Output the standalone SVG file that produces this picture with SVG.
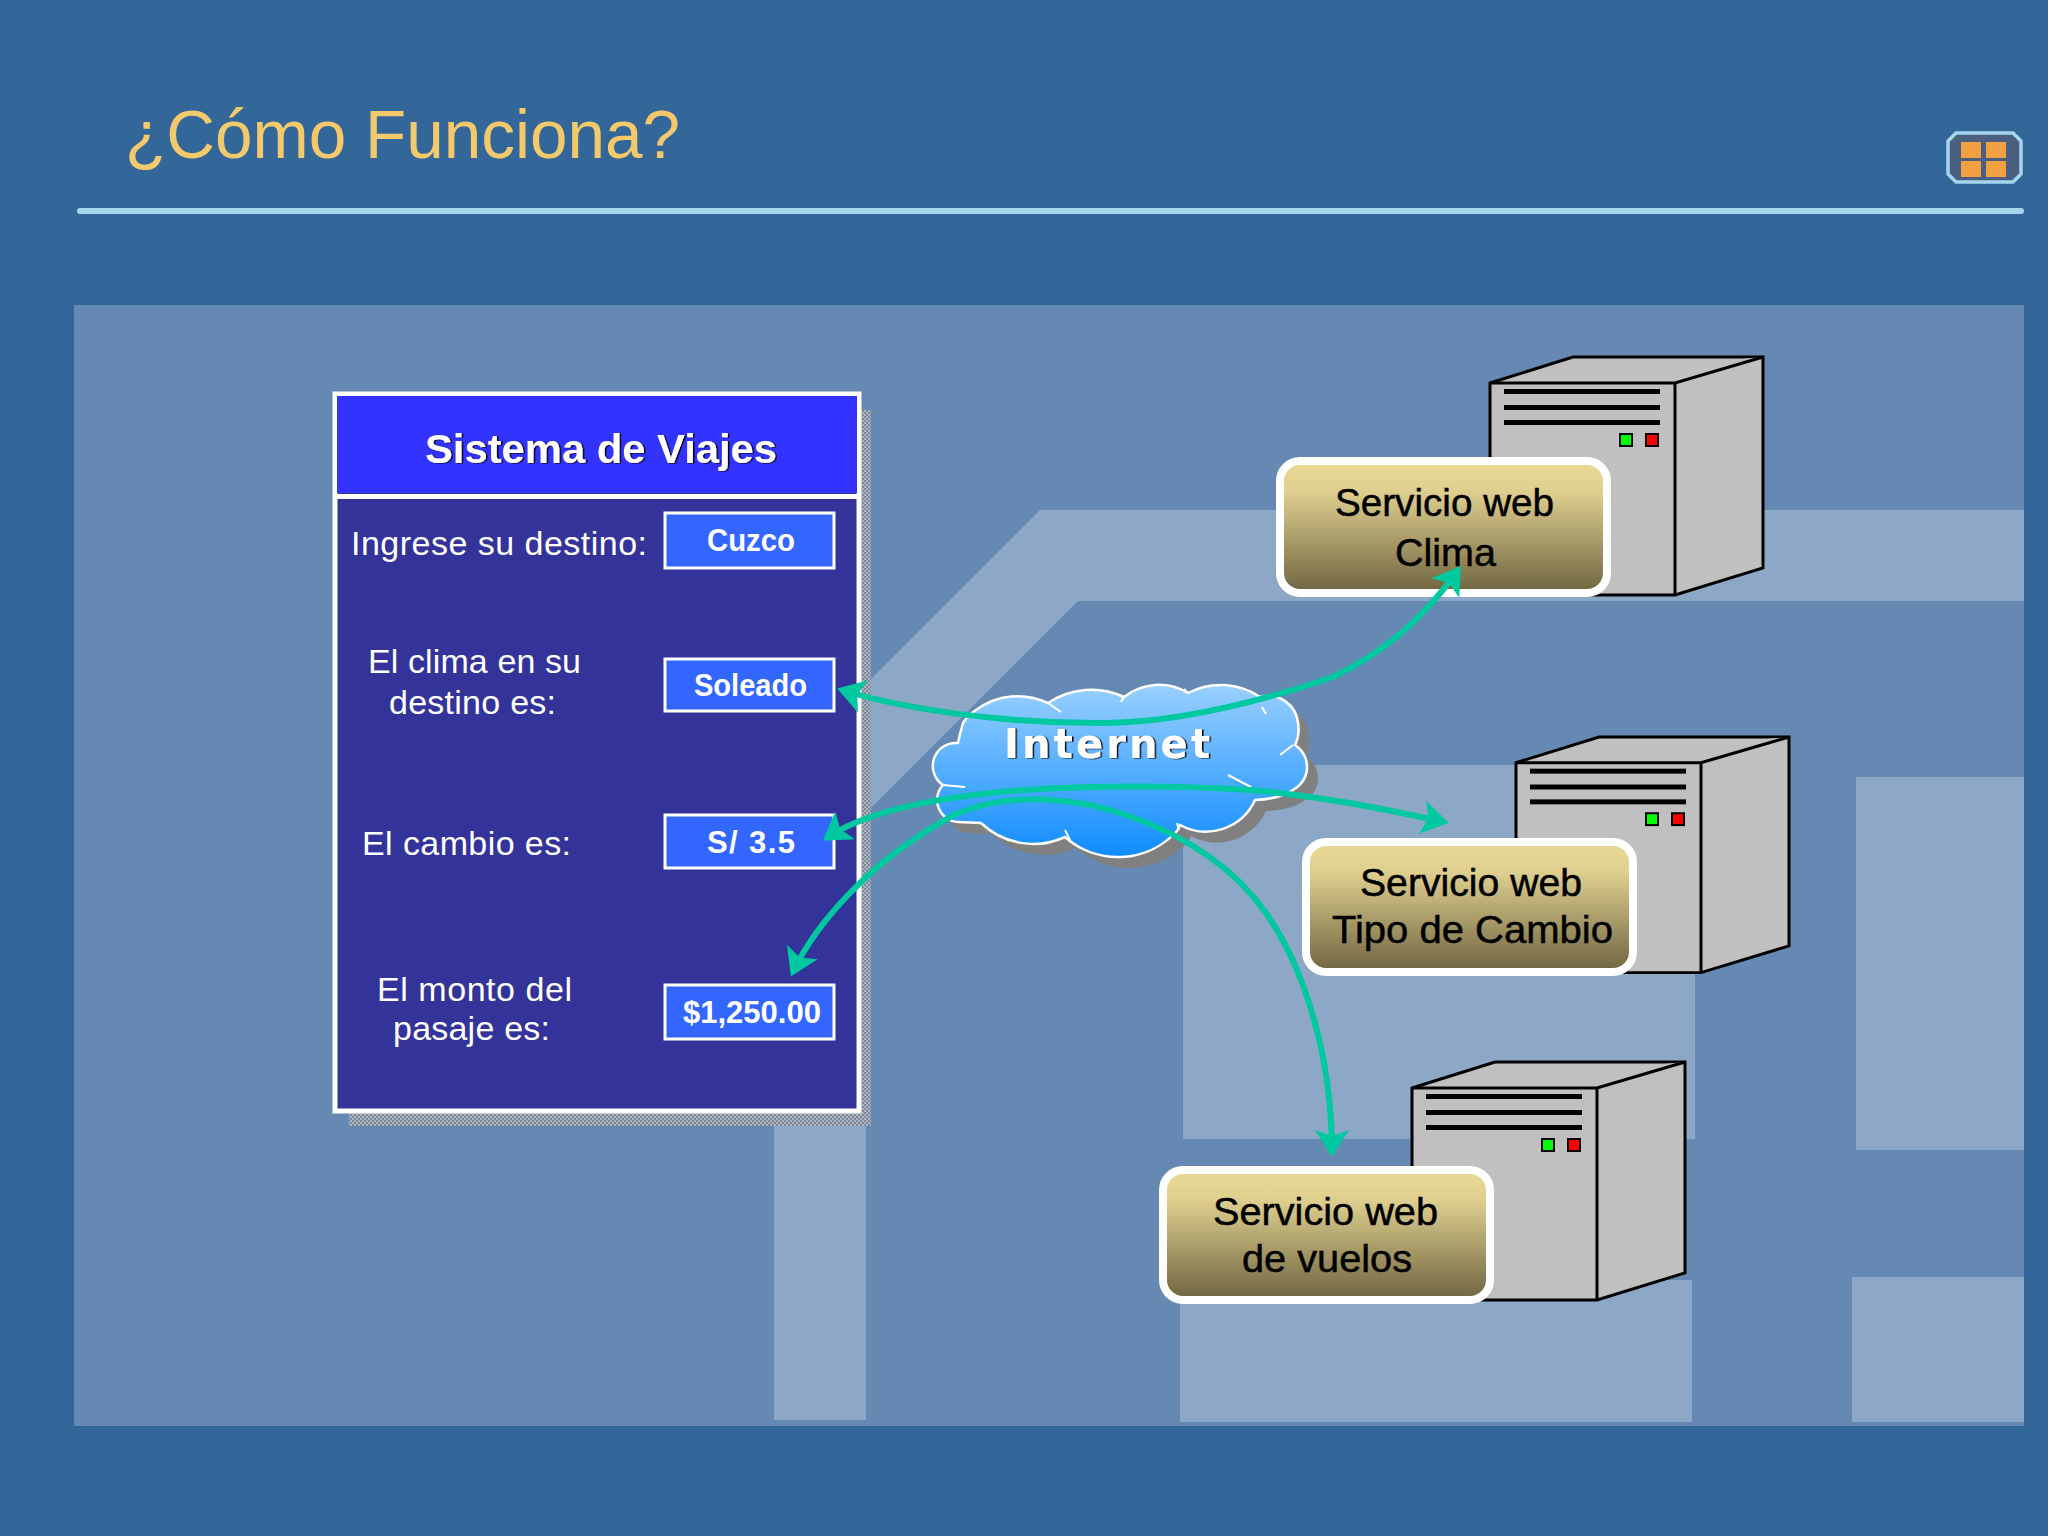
<svg xmlns="http://www.w3.org/2000/svg" width="2048" height="1536" viewBox="0 0 2048 1536">
<style>
text{font-family:"Liberation Sans",Arial,sans-serif}
.lbl{font-size:34px;fill:#fff;text-anchor:start}
.val{font-size:31px;font-weight:bold;fill:#fff}
.svc{font-size:38px;fill:#000;stroke:#000;stroke-width:.5px}
.box{fill:#3366ff;stroke:#fff;stroke-width:3}
.tag{fill:url(#tagG);stroke:#fff;stroke-width:8}
.lt{fill:#8ca8c6}
.conn{fill:none;stroke:#00c8a0;stroke-width:6;marker-start:url(#ah);marker-end:url(#ah)}
.srv{fill:#c0c0c0;stroke:#000;stroke-width:3;stroke-linejoin:miter}
</style>
<defs>
<linearGradient id="tagG" x1="0" y1="0" x2="0" y2="1"><stop offset="0" stop-color="#ead996"/><stop offset=".22" stop-color="#e0d090"/><stop offset="1" stop-color="#6e6440"/></linearGradient>
<linearGradient id="cloudG" x1="0" y1="0" x2="0" y2="1"><stop offset="0" stop-color="#99d0ff"/><stop offset="1" stop-color="#0f8cff"/></linearGradient>
<pattern id="dith" width="4" height="4" patternUnits="userSpaceOnUse"><rect width="4" height="4" fill="#aab4c2"/><rect width="2" height="2" fill="#7f8794"/><rect x="2" y="2" width="2" height="2" fill="#7f8794"/></pattern>
<marker id="ah" markerUnits="userSpaceOnUse" markerWidth="27" markerHeight="34" refX="22" refY="17" viewBox="0 0 27 34" orient="auto-start-reverse"><path d="M27 17 L0 0 L6 17 L0 34Z" fill="#00c8a0"/></marker>
<filter id="fringe" x="-5%" y="-5%" width="110%" height="110%"><feDropShadow dx="1.5" dy="0.5" stdDeviation="0" flood-color="#000"/></filter>
<path id="cloudShape" d="M976 710 A70 70 0 0 1 1048 703 A77 77 0 0 1 1124 697 A56 56 0 0 1 1188 693 A70 70 0 0 1 1260 697 A30 30 0 0 1 1298 723 Q1300 735 1295 745 A26 26 0 0 1 1293 790 Q1280 799 1255 800 A54 54 0 0 1 1180 825 L1177 831 A80 80 0 0 1 1065 837 A76 76 0 0 1 981 823 L958 822 A22 22 0 0 1 943 785 A23 23 0 0 1 958 743 Q960 733 963 723 Q968 715 976 710Z"/>
<g id="server">
<path class="srv" d="M1490 383 L1573 357 L1763 357 L1763 568 L1675 595 L1490 595Z"/>
<path class="srv" d="M1490 383 H1675 L1763 357 M1675 383 V595" fill="none"/>
<rect x="1504" y="389" width="156" height="5"/><rect x="1504" y="405" width="156" height="5"/><rect x="1504" y="420" width="156" height="5"/>
<rect x="1620" y="434" width="12" height="12" fill="#00ff00" stroke="#000" stroke-width="2"/>
<rect x="1646" y="434" width="12" height="12" fill="#ff0000" stroke="#000" stroke-width="2"/>
</g>
</defs>
<rect id="slide" width="2048" height="1536" fill="#336699"/>
<g id="title">
<text x="125" y="158" font-size="68" fill="#f4c96c" textLength="555" lengthAdjust="spacingAndGlyphs">¿Cómo Funciona?</text>
<rect x="77" y="208" width="1947" height="6" rx="3" fill="#a6d6ee"/>
</g>
<g id="menu-icon">
<path d="M1956 133 H2013 L2021 141 V174 L2013 182 H1956 L1948 174 V141Z" fill="#4b5f80" stroke="#a6d6ee" stroke-width="3.5" stroke-linejoin="round"/>
<g fill="#f0a040"><rect x="1961" y="142" width="20" height="16"/><rect x="1986" y="142" width="20" height="16"/><rect x="1961" y="161" width="20" height="16"/><rect x="1986" y="161" width="20" height="16"/></g>
</g>
<g id="backdrop">
<rect x="74" y="305" width="1950" height="1121" fill="#6689b3"/>
<path class="lt" d="M868 682 L1040 510 H2024 V601 H1078 L868 811Z"/>
<rect class="lt" x="774" y="1120" width="92" height="300"/>
<rect class="lt" x="1183" y="765" width="512" height="374"/>
<rect class="lt" x="1856" y="777" width="168" height="373"/>
<rect class="lt" x="1180" y="1280" width="512" height="142"/>
<rect class="lt" x="1852" y="1277" width="172" height="145"/>
</g>
<g id="panel">
<rect x="349" y="1100" width="522" height="26" fill="url(#dith)"/>
<rect x="861" y="410" width="10" height="716" fill="url(#dith)"/>
<rect x="335" y="394" width="524" height="717" fill="#333399" stroke="#fff" stroke-width="5"/>
<rect x="337" y="396" width="520" height="97" fill="#3333ff"/>
<rect x="337" y="494" width="520" height="5" fill="#fff"/>
<text x="425" y="463" font-size="41" font-weight="bold" fill="#fff" textLength="352" lengthAdjust="spacingAndGlyphs" filter="url(#fringe)">Sistema de Viajes</text>
<text class="lbl" x="351" y="555" textLength="296" lengthAdjust="spacing">Ingrese su destino:</text>
<text class="lbl" x="368" y="673" textLength="213" lengthAdjust="spacing">El clima en su</text>
<text class="lbl" x="389" y="714" textLength="167" lengthAdjust="spacing">destino es:</text>
<text class="lbl" x="362" y="855" textLength="209" lengthAdjust="spacing">El cambio es:</text>
<text class="lbl" x="377" y="1001" textLength="195" lengthAdjust="spacing">El monto del</text>
<text class="lbl" x="393" y="1040" textLength="157" lengthAdjust="spacing">pasaje es:</text>
<rect class="box" x="665" y="513" width="169" height="55"/>
<rect class="box" x="665" y="659" width="169" height="52"/>
<rect class="box" x="665" y="815" width="169" height="53"/>
<rect class="box" x="665" y="985" width="169" height="54"/>
<text class="val" x="707" y="551" textLength="88" lengthAdjust="spacingAndGlyphs">Cuzco</text>
<text class="val" x="694" y="696" textLength="113" lengthAdjust="spacingAndGlyphs">Soleado</text>
<text class="val" x="707" y="853" textLength="88" lengthAdjust="spacing">S/ 3.5</text>
<text class="val" x="683" y="1023" textLength="138" lengthAdjust="spacingAndGlyphs">$1,250.00</text>
</g>
<g id="server-clima"><use href="#server"/></g>
<g id="server-cambio"><use href="#server" transform="translate(1516 737) scale(1 .99) translate(-1490 -357)"/></g>
<g id="server-vuelos"><use href="#server" x="-78" y="705"/></g>
<g id="tag-clima">
<rect class="tag" x="1280" y="461" width="327" height="132" rx="20"/>
<text class="svc" x="1335" y="516" textLength="219" lengthAdjust="spacingAndGlyphs">Servicio web</text>
<text class="svc" x="1395" y="566" textLength="101" lengthAdjust="spacingAndGlyphs">Clima</text>
</g>
<g id="tag-cambio">
<rect class="tag" x="1306" y="842" width="327" height="130" rx="20"/>
<text class="svc" x="1360" y="896" textLength="222" lengthAdjust="spacingAndGlyphs">Servicio web</text>
<text class="svc" x="1332" y="943" textLength="281" lengthAdjust="spacingAndGlyphs">Tipo de Cambio</text>
</g>
<g id="tag-vuelos">
<rect class="tag" x="1163" y="1170" width="327" height="130" rx="20"/>
<text class="svc" x="1213" y="1225" textLength="225" lengthAdjust="spacingAndGlyphs">Servicio web</text>
<text class="svc" x="1242" y="1272" textLength="170" lengthAdjust="spacingAndGlyphs">de vuelos</text>
</g>
<g id="cloud">
<use href="#cloudShape" transform="translate(11 11)" fill="#808080"/>
<use href="#cloudShape" fill="url(#cloudG)" stroke="#fff" stroke-width="2.5"/>
<path d="M1228 775 L1251 787 M1280 755 L1293 745 M1048 703 L1061 712 M1124 697 L1121 702 M1188 693 L1184 689 M1262 707 L1266 714 M1065 830 L1070 840 M1177 823 L1179 830 M943 785 L965 787" stroke="#fff" stroke-width="2" fill="none"/>
<text x="1004" y="758" font-family="DejaVu Sans" style="font-family:'DejaVu Sans',sans-serif" font-size="40" font-weight="bold" fill="#fff" textLength="206" lengthAdjust="spacing" filter="url(#fringe)">Internet</text>
</g>
<g id="connectors">
<path class="conn" d="M842 690 C900 708 1000 724 1106 723 C1190 722 1280 695 1333 677 C1390 650 1430 610 1458 570"/>
<path class="conn" d="M827 838 C860 815 920 800 1000 792 C1090 784 1190 786 1250 790 C1320 796 1380 808 1444 822"/>
<path class="conn" d="M793 972 C815 925 870 860 954 815 C1010 790 1080 798 1132 817 C1184 836 1232 865 1266 913 C1306 970 1332 1060 1332 1152"/>
</g>
</svg>
